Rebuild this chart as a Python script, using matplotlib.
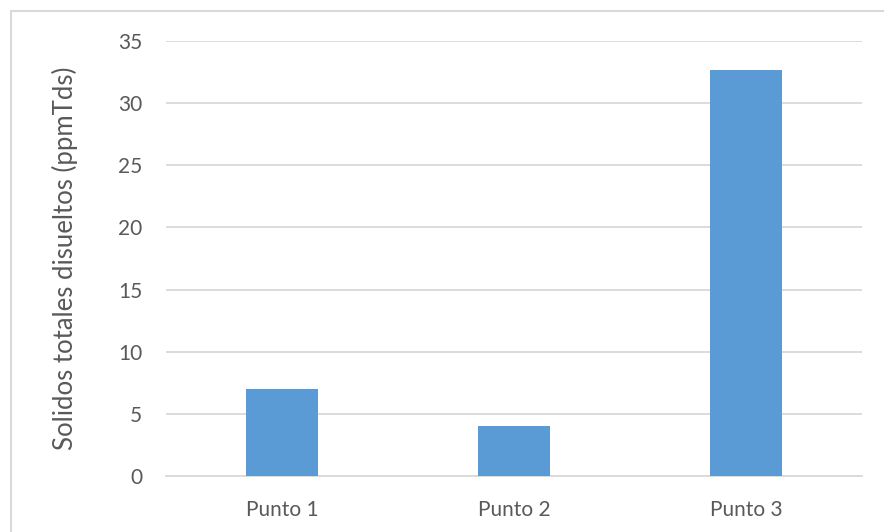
import matplotlib.pyplot as plt
from matplotlib.patches import Rectangle

# Data
categories = ["Punto 1", "Punto 2", "Punto 3"]
values = [7.0, 4.0, 32.7]
yticks = [0, 5, 10, 15, 20, 25, 30, 35]

plt.rcParams['font.family'] = ['Lato', 'DejaVu Sans']

fig = plt.figure(figsize=(8.84, 5.32), dpi=100)
ax = fig.add_axes([166 / 884, 1 - 476 / 532, (862 - 166) / 884, (476 - 41) / 532])

# chart border (Excel style)
fig.patches.append(Rectangle((11 / 884, -0.1), 1.2, 1 - 11 / 532 + 0.1,
                             transform=fig.transFigure, fill=False,
                             edgecolor='#D9D9D9', linewidth=1.5))

x = range(len(categories))
ax.bar(x, values, width=0.31, color='#5B9BD5', zorder=3)

ax.set_xlim(-0.5, len(categories) - 0.5)
ax.set_ylim(0, 35)
ax.set_yticks(yticks)
ax.set_xticks(list(x))
ax.set_xticklabels(categories)
ax.grid(axis='y', color='#D9D9D9', linewidth=1.3, zorder=0)

for s in ['top', 'right', 'left']:
    ax.spines[s].set_visible(False)
ax.spines['bottom'].set_color('#D9D9D9')
ax.spines['bottom'].set_linewidth(1.3)

ax.tick_params(axis='both', length=0, labelsize=15, colors='#595959')
ax.tick_params(axis='y', pad=17)
ax.tick_params(axis='x', pad=17)

ax.set_ylabel("Solidos totales disueltos (ppmTds)", fontsize=18.5, color='#595959')
ax.yaxis.set_label_coords(-88 / 696, 0.5)

fig.savefig("out.png", dpi=100)
